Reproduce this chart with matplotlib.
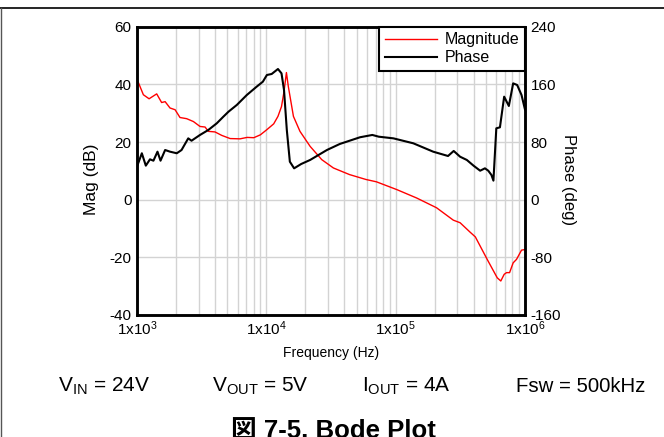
import matplotlib
matplotlib.use("Agg")
import matplotlib.pyplot as plt
from matplotlib.ticker import FixedLocator, LogLocator, NullFormatter
from matplotlib.lines import Line2D

plt.rcParams['font.family'] = ['Liberation Sans', 'Noto Sans CJK JP']
plt.rcParams['mathtext.fontset'] = 'custom'
plt.rcParams['mathtext.rm'] = 'Liberation Sans'
plt.rcParams['mathtext.it'] = 'Liberation Sans'
plt.rcParams['mathtext.default'] = 'regular'
plt.rcParams['axes.unicode_minus'] = False

# magnitude curve (Hz, dB)
mag_freq = [1.0e3, 1.12e3, 1.24e3, 1.42e3, 1.55e3, 1.65e3, 1.80e3, 1.97e3, 2.15e3,
            2.42e3, 2.73e3, 3.07e3, 3.36e3, 3.56e3, 4.01e3, 4.52e3, 5.25e3, 6.26e3,
            7.1e3, 8.0e3, 9.0e3, 1.01e4, 1.14e4, 1.23e4, 1.31e4, 1.37e4, 1.43e4,
            1.48e4, 1.62e4, 1.82e4, 2.18e4, 2.68e4, 3.3e4, 4.4e4, 5.9e4, 7.1e4,
            1.02e5, 1.45e5, 2.07e5, 2.79e5, 3.15e5, 3.77e5, 4.13e5, 5.1e5, 6.1e5,
            6.5e5, 6.9e5, 7.2e5, 7.6e5, 8.1e5, 8.6e5, 9.4e5, 1.0e6]
mag_db = [41.8, 36.4, 35.0, 36.7, 33.7, 34.0, 31.8, 31.2, 28.5,
          28.1, 27.1, 25.4, 25.2, 23.7, 23.5, 22.3, 21.2, 21.1,
          21.6, 21.5, 22.5, 24.3, 26.3, 28.9, 32.3, 37.5, 44.1,
          39.2, 28.9, 23.7, 18.5, 13.9, 11.0, 8.7, 7.0, 6.2,
          3.5, 0.6, -2.8, -7.1, -8.0, -11.3, -12.9, -20.7, -27.1,
          -28.2, -25.9, -25.3, -25.3, -21.9, -20.7, -17.5, -17.3]

# phase curve (Hz, deg)
phase_freq = [1.0e3, 1.09e3, 1.17e3, 1.26e3, 1.34e3, 1.44e3, 1.52e3, 1.65e3, 1.80e3,
              2.03e3, 2.21e3, 2.49e3, 2.64e3, 3.07e3, 3.56e3, 4.14e3, 4.65e3, 5.1e3,
              5.91e3, 7.06e3, 8.42e3, 9.4e3, 1.01e4, 1.1e4, 1.23e4, 1.31e4, 1.37e4,
              1.44e4, 1.52e4, 1.64e4, 1.86e4, 2.18e4, 2.94e4, 3.7e4, 5.3e4, 6.6e4,
              7.4e4, 9.6e4, 1.37e5, 1.95e5, 2.54e5, 2.81e5, 3.15e5, 3.55e5, 4.0e5,
              4.5e5, 4.9e5, 5.2e5, 5.5e5, 5.7e5, 6.0e5, 6.4e5, 6.9e5, 7.5e5,
              8.1e5, 8.7e5, 9.4e5, 1.0e6]
phase_deg = [46.0, 64.4, 47.2, 56.0, 54.1, 66.6, 54.1, 68.9, 66.6,
             64.4, 68.9, 85.1, 81.8, 89.8, 96.7, 106.0, 115.1, 122.1,
             131.4, 145.2, 156.8, 163.7, 173.0, 174.4, 181.3, 175.3, 152.2,
             96.7, 52.7, 43.5, 49.5, 55.1, 68.9, 77.3, 86.6, 89.8,
             87.4, 85.1, 78.2, 66.6, 60.6, 67.6, 59.6, 55.1, 47.2,
             40.2, 43.5, 40.2, 34.3, 26.4, 99.0, 100.4, 142.9, 130.0,
             161.4, 159.1, 145.2, 125.0]

mag_ticks = [-40, -20, 0, 20, 40, 60]
phase_ticks = [-160, -80, 0, 80, 160, 240]
freq_ticks = [1e3, 1e4, 1e5, 1e6]
freq_labels = ['1x10$^{3}$', '1x10$^{4}$', '1x10$^{5}$', '1x10$^{6}$']

fig = plt.figure(figsize=(6.64, 4.37), dpi=100)
ax = fig.add_axes([137 / 664, 1 - 315 / 437, (525 - 137) / 664, (315 - 26.7) / 437])
ax2 = ax.twinx()

ax.set_xscale('log')
ax.set_xlim(1e3, 1e6)
ax.set_ylim(-40, 60)
ax2.set_ylim(-160, 240)

ax.xaxis.set_major_locator(FixedLocator(freq_ticks))
ax.set_xticklabels(freq_labels)
ax.xaxis.set_minor_locator(LogLocator(base=10, subs=range(2, 10)))
ax.xaxis.set_minor_formatter(NullFormatter())
ax.yaxis.set_major_locator(FixedLocator(mag_ticks))
ax2.yaxis.set_major_locator(FixedLocator(phase_ticks))

ax.grid(True, which='both', axis='x', color='#d3d3d3', linewidth=1.0)
ax.grid(True, which='major', axis='y', color='#d3d3d3', linewidth=1.0)
ax.set_axisbelow(True)

for a in (ax, ax2):
    a.tick_params(which='both', length=0, labelsize=11, pad=4)
    for s in a.spines.values():
        s.set_linewidth(1.8)
        s.set_color('black')
ax.tick_params(axis='x', pad=3)

ax.plot(mag_freq, mag_db, color='#ff0000', linewidth=1.0)
ax2.plot(phase_freq, phase_deg, color='black', linewidth=1.5)

ax.set_xlabel('Frequency (Hz)', fontsize=10, labelpad=6)
ax.set_ylabel('Mag (dB)', fontsize=12.5, va='center')
ax.yaxis.set_label_coords(-0.116, 0.47)
ax2.set_ylabel('Phase (deg)', fontsize=12, rotation=270, va='center')
ax2.yaxis.set_label_coords(1.111, 0.47)

handles = [Line2D([], [], color='#ff0000', linewidth=1.0),
           Line2D([], [], color='black', linewidth=1.5)]
leg = ax2.legend(handles, ['Magnitude', 'Phase'], loc='upper right',
                 bbox_to_anchor=(1.0, 1.0), borderaxespad=0, fancybox=False,
                 framealpha=1, edgecolor='black', fontsize=11.5,
                 handlelength=3.3, handletextpad=0.45, labelspacing=0.2,
                 borderpad=0.35)
leg.get_frame().set_linewidth(1.5)

# condition row and caption
row_y = 1 - 386 / 437
fig.text(58 / 664, row_y, 'V$_{IN}$ = 24V', fontsize=15, va='center')
fig.text(212 / 664, row_y, 'V$_{OUT}$ = 5V', fontsize=15, va='center')
fig.text(362 / 664, row_y, 'I$_{OUT}$ = 4A', fontsize=15, va='center')
fig.text(516 / 664, row_y, 'Fsw = 500kHz', fontsize=14.7, va='center')
fig.text(333 / 664, 1 - 419 / 437, '図 7-5. Bode Plot', fontsize=18.5, fontweight='bold',
         ha='center', va='top')

# page frame lines
fig.add_artist(Line2D([0, 1], [1 - 7.5 / 437, 1 - 7.5 / 437], color='black', linewidth=1.2))
fig.add_artist(Line2D([0.5 / 664, 0.5 / 664], [0, 1 - 7.5 / 437], color='#555555', linewidth=1.0))

fig.savefig('out.png', dpi=100)
